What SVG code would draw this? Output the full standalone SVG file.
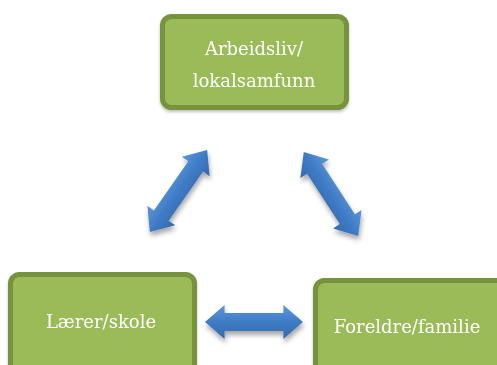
<svg xmlns="http://www.w3.org/2000/svg" width="497" height="365" viewBox="0 0 497 365">
<defs>
<linearGradient id="ag" x1="0" y1="0" x2="0" y2="1">
<stop offset="0" stop-color="#5C97D9"/>
<stop offset="0.5" stop-color="#3F7CC6"/>
<stop offset="1" stop-color="#3468AC"/>
</linearGradient>
<filter id="sh" x="-20%" y="-30%" width="140%" height="170%">
<feGaussianBlur in="SourceAlpha" stdDeviation="2.5"/>
<feOffset dx="1" dy="4" result="b"/>
<feComponentTransfer><feFuncA type="linear" slope="0.35"/></feComponentTransfer>
<feMerge><feMergeNode/><feMergeNode in="SourceGraphic"/></feMerge>
</filter>
<filter id="bs" x="-10%" y="-10%" width="120%" height="130%">
<feGaussianBlur in="SourceAlpha" stdDeviation="1.5"/>
<feOffset dx="0" dy="2"/>
<feComponentTransfer><feFuncA type="linear" slope="0.25"/></feComponentTransfer>
<feMerge><feMergeNode/><feMergeNode in="SourceGraphic"/></feMerge>
</filter>
<path id="da" d="M-50,0 L-30,-17 L-30,-9 L30,-9 L30,-17 L50,0 L30,17 L30,9 L-30,9 L-30,17 Z"/>
</defs>
<style>
.box{fill:#9BBB59;stroke:#77933C;stroke-width:5}
.lbl{font-family:"DejaVu Serif","Liberation Serif",serif;font-size:18px;fill:#FFFFFF;text-anchor:middle}
.arr{fill:url(#ag)}
</style>
<rect width="497" height="365" fill="#FFFFFF"/>
<g id="arbeidsliv" filter="url(#bs)">
<rect class="box" x="162.5" y="16.5" width="184" height="91" rx="9"/>
<text class="lbl" x="254" y="55">Arbeidsliv/</text>
<text class="lbl" x="254" y="87">lokalsamfunn</text>
</g>
<g id="laerer" filter="url(#bs)">
<rect class="box" x="10.5" y="274.5" width="184" height="100" rx="9"/>
<text class="lbl" x="101" y="328">Lærer/skole</text>
</g>
<g id="foreldre" filter="url(#bs)">
<rect class="box" x="315.5" y="280.5" width="190" height="100" rx="9"/>
<text class="lbl" x="407" y="333">Foreldre/familie</text>
</g>
<g id="connectors" filter="url(#sh)">
<use href="#da" class="arr" transform="translate(178.5,191) rotate(-55)"/>
<use href="#da" class="arr" transform="translate(331,194) rotate(57)"/>
<use href="#da" class="arr" transform="translate(254,322) scale(0.98,1)"/>
</g>
</svg>
